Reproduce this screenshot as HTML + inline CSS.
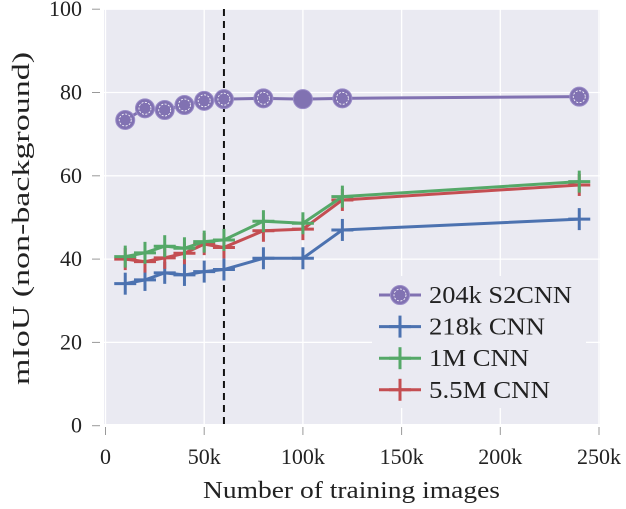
<!DOCTYPE html>
<html><head><meta charset="utf-8"><style>
body{margin:0;background:#fff}
svg text{font-family:"Liberation Serif",serif;fill:#222}
</style></head><body>
<svg width="626" height="504">
<g id="g"></g>
</svg>
<script>
const xVals=[10,20,30,40,50,60,80,100,120,240];
const s2cnn=[73.4,76.2,75.8,77,78,78.4,78.6,78.4,78.6,79];
const cnn218k=[34.1,35,36.7,36.2,37,37.5,40.2,40.2,47,49.6];
const cnn1m=[40.6,41.5,43.1,42.6,44.2,44.6,49.1,48.6,55,58.6];
const cnn55m=[40,39.4,40.3,41.4,43.6,42.8,46.8,47.2,54.2,57.8];
const xTicks=[0,50,100,150,200,250];
const xTickLabels=["0","50k","100k","150k","200k","250k"];
const yTicks=[0,20,40,60,80,100];
const names=["204k S2CNN","218k CNN","1M CNN","5.5M CNN"];
const nameW=[143,116,100,121];
const colors=["#8172b2","#4c72b0","#55a868","#c44e52"];
const X=v=>105.5+v*98.7/50, Y=v=>425.7-v*4.165;
const g=document.getElementById('g'),NS="http://www.w3.org/2000/svg";
function el(t,a,p){const e=document.createElementNS(NS,t);for(const k in a)e.setAttribute(k,a[k]);(p||g).appendChild(e);return e;}
let e=el('rect',{x:104,y:9,width:496,height:415,fill:'#eaeaf2'});

xTicks.forEach((t,i)=>{
 el('line',{x1:X(t),x2:X(t),y1:9,y2:424,stroke:'#fff','stroke-width':1.3});
 el('line',{x1:X(t),x2:X(t),y1:427,y2:435,stroke:'#999','stroke-width':1});
 const tx=el('text',{x:X(t),y:464,'text-anchor':'middle','font-size':22});tx.textContent=xTickLabels[i];
 
});
yTicks.forEach(t=>{
 el('line',{x1:92,x2:100,y1:Y(t),y2:Y(t),stroke:'#999','stroke-width':1});
 el('line',{x1:104,x2:600,y1:Y(t),y2:Y(t),stroke:'#fff','stroke-width':1.3});
 const tx=el('text',{x:82,y:Y(t)+7,'text-anchor':'end','font-size':22});tx.textContent=t;
 
});
e=el('line',{x1:X(60),x2:X(60),y1:9,y2:424,stroke:'#111','stroke-width':2,'stroke-dasharray':'7,5'});

function plus(x,y,c,p){el('line',{x1:x-11,x2:x+11,y1:y,y2:y,stroke:c,'stroke-width':3},p);el('line',{x1:x,x2:x,y1:y-11,y2:y+11,stroke:c,'stroke-width':3},p);}
function circ(x,y,c,solid,p){el('circle',{cx:x,cy:y,r:9.5,fill:c,stroke:'#9a8cc8','stroke-width':1},p);if(!solid)el('circle',{cx:x,cy:y,r:6,fill:'none',stroke:'#fff','stroke-width':0.8,'stroke-dasharray':'2,1.5'},p);}
[cnn218k,cnn55m,cnn1m].forEach((s,k)=>{
 const c=[colors[1],colors[3],colors[2]][k];
 const gr=el('g',{});
 el('polyline',{points:s.map((v,i)=>X(xVals[i])+','+Y(v)).join(' '),fill:'none',stroke:c,'stroke-width':3},gr);
 s.forEach((v,i)=>plus(X(xVals[i]),Y(v),c,gr));
});
const gs=el('g',{});
el('polyline',{points:s2cnn.map((v,i)=>X(xVals[i])+','+Y(v)).join(' '),fill:'none',stroke:colors[0],'stroke-width':3},gs);
s2cnn.forEach((v,i)=>circ(X(xVals[i]),Y(v),colors[0],xVals[i]===100,gs));
const lg=el('g',{});
el('rect',{x:372,y:276,width:214,height:132,fill:'#eaeaf2'},lg);
names.forEach((n,i)=>{
 const y=295+i*31.6;
 el('line',{x1:379,x2:421,y1:y,y2:y,stroke:colors[i],'stroke-width':3},lg);
 if(i===0)circ(400,y,colors[0],false,lg);else plus(400,y,colors[i],lg);
 const t=el('text',{x:429,y:y+8,'font-size':24,textLength:nameW[i],lengthAdjust:'spacingAndGlyphs'},lg);t.textContent=n;
 
});
e=el('text',{x:203,y:498,'font-size':24,textLength:297,lengthAdjust:'spacingAndGlyphs'});e.textContent='Number of training images';

e=el('text',{x:0,y:0,'font-size':24,textLength:333,lengthAdjust:'spacingAndGlyphs',transform:'translate(29,385) rotate(-90)'});e.textContent='mIoU (non-background)';

</script>
</body></html>
